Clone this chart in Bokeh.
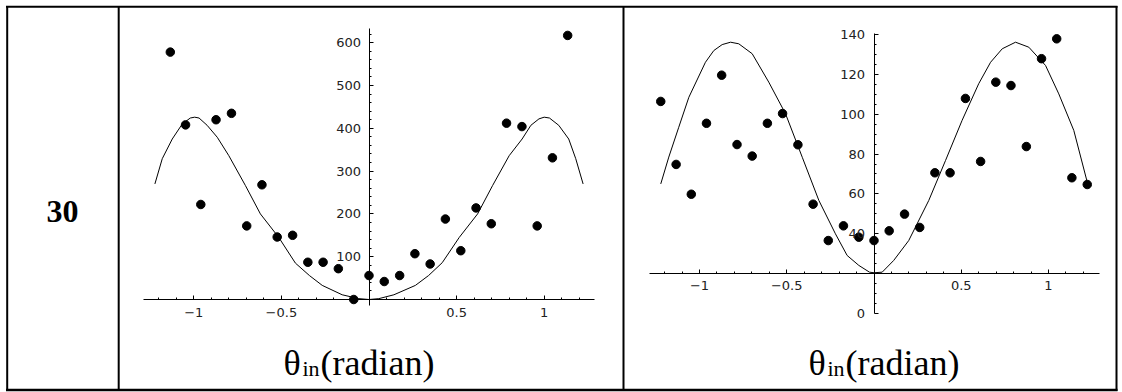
from bokeh.plotting import figure
from bokeh.models import Range1d, LinearAxis, FixedTicker
from bokeh.core.properties import value
from bokeh.embed import file_html
from bokeh.resources import INLINE

W, H = 1122, 392

# ---- panel A: measured counts vs incidence angle (rad) ----
theta_a = [-1.134, -1.047, -0.960, -0.873, -0.785, -0.698, -0.611, -0.524, -0.436,
           -0.349, -0.262, -0.175, -0.087, 0.0, 0.087, 0.175, 0.262, 0.349, 0.436,
           0.524, 0.611, 0.698, 0.785, 0.873, 0.960, 1.047, 1.134]
counts_a = [578, 408, 222, 420, 435, 172, 268, 146, 150, 87, 87, 72, 0, 56, 42, 56,
            107, 83, 188, 114, 214, 177, 412, 404, 172, 331, 617]

fit_a_x = [-1.222, -1.18, -1.123, -1.066, -1.02, -0.995, -0.97, -0.924, -0.866, -0.80,
           -0.705, -0.62, -0.515, -0.42, -0.34, -0.267, -0.153, -0.058, 0.0, 0.056,
           0.142, 0.265, 0.34, 0.418, 0.515, 0.62, 0.705, 0.80, 0.874, 0.924, 0.97,
           1.0, 1.03, 1.083, 1.14, 1.18, 1.222]
fit_a_y = [270, 329, 375, 410, 424, 426, 424, 407, 379, 336, 266, 200, 145, 85, 56, 33,
           11, 2, 0, 2, 11, 33, 56, 86, 145, 200, 266, 336, 375, 407, 422, 426, 424,
           407, 375, 329, 270]

# ---- panel B ----
theta_b = [-1.222, -1.134, -1.047, -0.960, -0.873, -0.785, -0.698, -0.611, -0.524,
           -0.436, -0.349, -0.262, -0.175, -0.087, 0.0, 0.087, 0.175, 0.262, 0.349,
           0.436, 0.524, 0.611, 0.698, 0.785, 0.873, 0.960, 1.047, 1.134, 1.222]
counts_b = [106.5, 74.8, 59.8, 95.5, 119.7, 84.8, 79, 95.5, 100.4, 84.7, 54.8, 36.5,
            43.9, 38.2, 36.5, 41.4, 49.8, 43.1, 70.6, 70.6, 108, 76.3, 116.2, 114.5,
            83.8, 128, 138, 68.1, 64.7]

fit_b_x = [-1.222, -1.176, -1.119, -1.061, -0.966, -0.918, -0.870, -0.822, -0.775,
           -0.698, -0.603, -0.507, -0.411, -0.316, -0.221, -0.154, -0.087, -0.026, 0.0,
           0.047, 0.113, 0.199, 0.314, 0.41, 0.505, 0.60, 0.668, 0.735, 0.811, 0.887,
           0.983, 1.059, 1.145, 1.222]
fit_b_y = [65, 78.5, 93.5, 108.6, 126.2, 132.1, 135.1, 136.3, 135.5, 130.5, 116.2,
           100.3, 78.4, 56.7, 39.9, 29, 24, 20.6, 20.3, 20.6, 26.5, 36.5, 56.7, 76.8,
           97, 115.4, 126.2, 133, 136.3, 133.8, 124.6, 110.3, 91.9, 65.9]

x_ticks = [-1, -0.5, 0.5, 1]
x_tick_labels = ["\u22121", "\u22120.5", "0.5", "1"]
ya_ticks = [100, 200, 300, 400, 500, 600]
yb_ticks = [0, 20, 40, 60, 80, 100, 120, 140]
yb_tick_labels = ["0", "", "40", "60", "80", "100", "120", "140"]

row_label = "30"

# page-space frame: x right, y down, in pixels
p = figure(width=W, height=H, x_range=Range1d(0, W), y_range=Range1d(H, 0),
           x_axis_type=None, y_axis_type=None, toolbar_location=None,
           output_backend="svg", min_border=0, outline_line_color=None,
           background_fill_color="white", border_fill_color="white")


def panel_ranges(x0_px, px_per_x, y0_px, px_per_y):
    xr = Range1d(-x0_px / px_per_x, (W - x0_px) / px_per_x)
    yr = Range1d(-(H - y0_px) / px_per_y, y0_px / px_per_y)
    return xr, yr


ax_r, ay_r = panel_ranges(368.5, 175.2, 299.0, 0.428)
bx_r, by_r = panel_ranges(873.5, 174.5, 312.6, 1.9875)
p.extra_x_ranges = {"ax": ax_r, "bx": bx_r}
p.extra_y_ranges = {"ay": ay_r, "by": by_r}


def style(axis):
    axis.axis_line_color = "black"
    axis.axis_line_width = 1
    axis.major_tick_line_color = "black"
    axis.minor_tick_line_color = "black"
    axis.major_tick_in = 4
    axis.major_tick_out = 0
    axis.minor_tick_in = 2
    axis.minor_tick_out = 0
    axis.major_label_text_font = "DejaVu Sans"
    axis.major_label_text_font_size = "13px"
    axis.major_label_text_color = "#222222"
    axis.major_label_standoff = 8


x_minor = [round(-1.2 + 0.1 * i, 1) for i in range(25)]
x_minor = [t for t in x_minor if t not in (-1.0, -0.5, 0.0, 0.5, 1.0)]

for xn, yn, loc, bounds in (("ax", "ay", 0, (-1.285, 1.285)), ("bx", "by", 20, (-1.285, 1.29))):
    xa = LinearAxis(x_range_name=xn, y_range_name=yn, fixed_location=loc, bounds=bounds,
                    ticker=FixedTicker(ticks=x_ticks, minor_ticks=x_minor),
                    major_label_overrides=dict(zip(x_ticks, x_tick_labels)))
    style(xa)
    p.add_layout(xa, "below")

ya = LinearAxis(x_range_name="ax", y_range_name="ay", fixed_location=0, bounds=(-14, 633),
                ticker=FixedTicker(ticks=ya_ticks,
                                   minor_ticks=[v for v in range(20, 640, 20) if v % 100]))
style(ya)
p.add_layout(ya, "left")

yb = LinearAxis(x_range_name="bx", y_range_name="by", fixed_location=0, bounds=(0, 140.5),
                ticker=FixedTicker(ticks=yb_ticks,
                                   minor_ticks=[v for v in range(5, 141, 5) if v % 20]),
                major_label_overrides=dict(zip(yb_ticks, yb_tick_labels)))
style(yb)
yb.major_label_standoff = 9
p.add_layout(yb, "left")

# fitted curves and measured points
p.line(fit_a_x, fit_a_y, line_color="black", line_width=1, x_range_name="ax", y_range_name="ay")
p.scatter(theta_a, counts_a, size=8.5, color="black", x_range_name="ax", y_range_name="ay")
p.line(fit_b_x, fit_b_y, line_color="black", line_width=1, x_range_name="bx", y_range_name="by")
p.scatter(theta_b, counts_b, size=8.5, color="black", x_range_name="bx", y_range_name="by")

# table rules
p.segment(x0=[5.5, 5.5, 6.7, 1116, 118.2, 623],
          y0=[6.2, 389.5, 5.5, 5.5, 5.5, 5.5],
          x1=[1117, 1117, 6.7, 1116, 118.2, 623],
          y1=[6.2, 389.5, 390.5, 390.5, 390.5, 390.5],
          line_color="black", line_width=[2, 2.5, 2, 2, 2, 2])

# row label
p.text(x=[62], y=[211], text=[row_label], text_font=value("Liberation Serif"),
       text_font_style="bold", text_font_size="32px", text_align="center",
       text_baseline="alphabetic", text_color="black")

# axis captions: theta with subscript "in", then "(radian)"
for x_start in (283, 808):
    p.text(x=[x_start], y=[362], text=["\u03b8"], text_font=value("Liberation Serif"),
           text_font_size="36px", text_align="left", text_baseline="alphabetic",
           text_color="black")
    p.text(x=[x_start + 19], y=[368], text=["in"], text_font=value("Liberation Serif"),
           text_font_size="22px", text_align="left", text_baseline="alphabetic",
           text_color="black")
    p.text(x=[x_start + 37], y=[362], text=["(radian)"], text_font=value("Liberation Serif"),
           text_font_size="36px", text_align="left", text_baseline="alphabetic",
           text_color="black")

open("out.html", "w").write(file_html(p, INLINE))
